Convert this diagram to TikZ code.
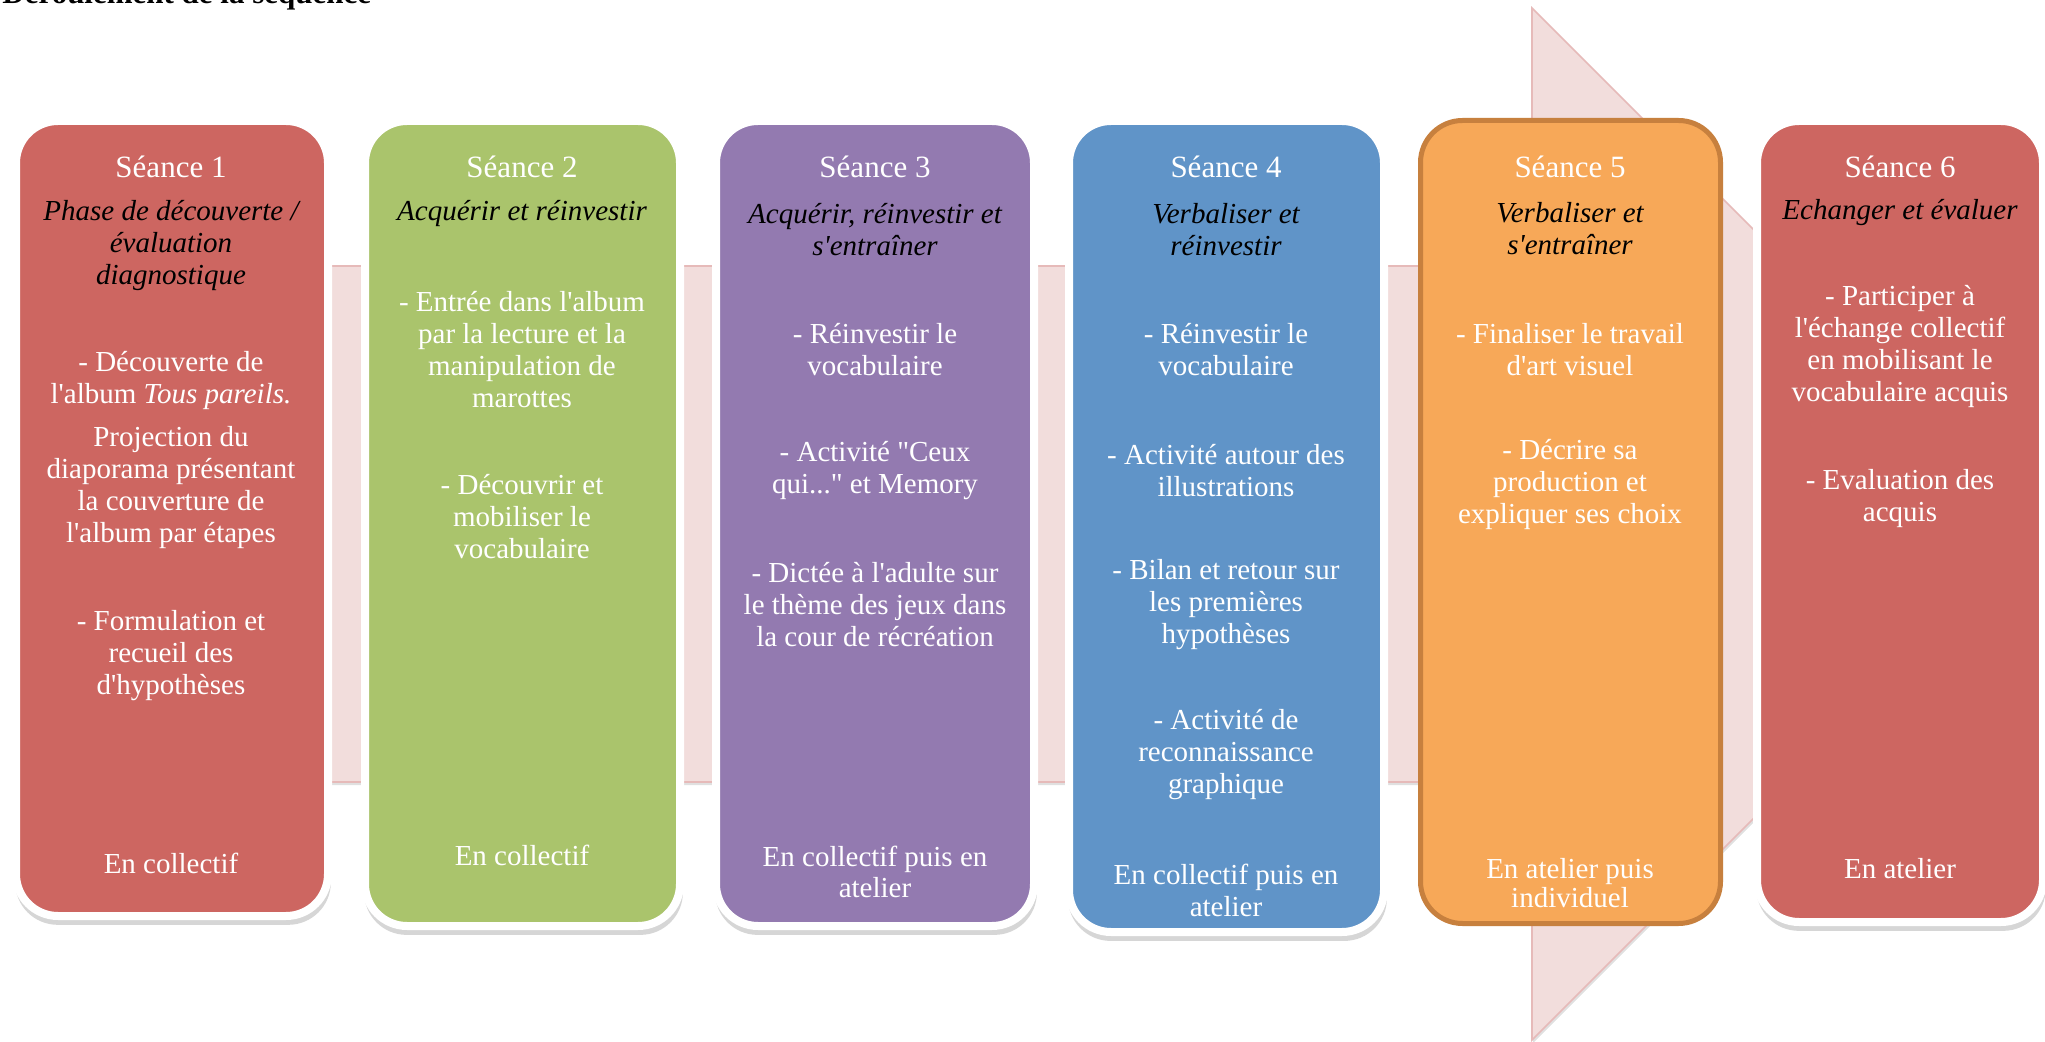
\documentclass[tikz,border=0pt]{standalone}
\usepackage{fontspec}
\setmainfont{Liberation Serif}[Ligatures=TeXOff]
\usetikzlibrary{shadows}
\definecolor{cRouge}{RGB}{205,102,97}
\definecolor{cVert}{RGB}{170,196,108}
\definecolor{cViolet}{RGB}{147,122,176}
\definecolor{cBleu}{RGB}{96,148,200}
\definecolor{cOrange}{RGB}{247,168,88}
\definecolor{cBrun}{RGB}{199,128,62}
\definecolor{cRose}{RGB}{242,221,220}
\definecolor{cRoseBord}{RGB}{230,186,185}

\begin{document}
\begin{tikzpicture}[x=0.5pt, y=-0.5pt,
    seance/.style={rectangle, rounded corners=21pt, draw=white, line width=4pt,
        drop shadow={shadow xshift=0.5pt, shadow yshift=-2pt, shadow scale=1.012, opacity=0.16, fill=black}},
    titre/.style={inner sep=0pt, yshift=-1.2pt, text=white, align=center, font=\fontsize{15.5}{17}\selectfont},
    phase/.style={inner sep=0pt, yshift=-1.2pt, text=black, align=center, font=\fontsize{14.5}{16}\selectfont\itshape},
    corps/.style={inner sep=0pt, yshift=-1.2pt, text=white, align=center, font=\fontsize{14.5}{15.9}\selectfont}
]
    \useasboundingbox (0,0) rectangle (2045,1042);
    \clip (0,0) rectangle (2045,1042);
    \fill[white] (0,0) rectangle (2045,1042);

    \node[anchor=base west, inner sep=0pt, font=\fontsize{15.5}{17}\selectfont\bfseries] (titre) at (2,4) {Déroulement de la séquence};

    \filldraw[fill=cRose, draw=cRoseBord, line width=0.8pt,
        drop shadow={shadow xshift=0.6pt, shadow yshift=-1.5pt, opacity=0.12, fill=black}]
        (20,266) -- (1532,266) -- (1532,8) -- (2048,524) -- (1532,1040) -- (1532,782) -- (20,782) -- cycle;

    % Seance 1
    \node[seance, fill=cRouge, minimum width=156pt, minimum height=397.5pt] (s1) at (172,518.5) {};
    \node[titre] (s1t) at (171,164) {Séance 1};
    \node[phase] (s1p) at (171,243) {Phase de découverte /\\évaluation\\diagnostique};
    \node[corps] (s1a) at (171,378) {- Découverte de\\l'album \textit{Tous pareils.}};
    \node[corps] (s1b) at (171,485) {Projection du\\diaporama présentant\\la couverture de\\l'album par étapes};
    \node[corps] (s1c) at (171,653) {- Formulation et\\recueil des\\d'hypothèses};
    \node[corps] (s1d) at (171,861) {En collectif};

    % Seance 2
    \node[seance, fill=cVert, minimum width=157.5pt, minimum height=402.5pt] (s2) at (522.5,523.5) {};
    \node[titre] (s2t) at (522,164) {Séance 2};
    \node[phase] (s2p) at (522,211) {Acquérir et réinvestir};
    \node[corps] (s2a) at (522,347) {- Entrée dans l'album\\par la lecture et la\\manipulation de\\marottes};
    \node[corps] (s2b) at (522,514) {- Découvrir et\\mobiliser le\\vocabulaire};
    \node[corps] (s2d) at (522,853) {En collectif};

    % Seance 3
    \node[seance, fill=cViolet, minimum width=159pt, minimum height=402.5pt] (s3) at (875,523.5) {};
    \node[titre] (s3t) at (875,164) {Séance 3};
    \node[phase] (s3p) at (875,227) {Acquérir, réinvestir et\\s'entraîner};
    \node[corps] (s3a) at (875,347) {- Réinvestir le\\vocabulaire};
    \node[corps] (s3b) at (875,468) {- Activité "Ceux\\qui..." et Memory};
    \node[corps] (s3c) at (875,602) {- Dictée à l'adulte sur\\le thème des jeux dans\\la cour de récréation};
    \node[corps] (s3d) at (875,869.5) {En collectif puis en\\atelier};

    % Seance 4
    \node[seance, fill=cBleu, minimum width=157.5pt, minimum height=405.5pt] (s4) at (1226.5,526.5) {};
    \node[titre] (s4t) at (1226,164) {Séance 4};
    \node[phase] (s4p) at (1226,227) {Verbaliser et\\réinvestir};
    \node[corps] (s4a) at (1226,347) {- Réinvestir le\\vocabulaire};
    \node[corps] (s4b) at (1226,468) {- Activité autour des\\illustrations};
    \node[corps] (s4c) at (1226,602) {- Bilan et retour sur\\les premières\\hypothèses};
    \node[corps] (s4e) at (1226,752) {- Activité de\\reconnaissance\\graphique};
    \node[corps] (s4d) at (1226,888) {En collectif puis en\\atelier};

    % Seance 5
    \node[rectangle, rounded corners=21pt, fill=cOrange, draw=cBrun, line width=2.5pt,
        minimum width=150pt, minimum height=401.5pt] (s5) at (1570.5,522) {};
    \node[titre] (s5t) at (1570,164) {Séance 5};
    \node[phase] (s5p) at (1570,226) {Verbaliser et\\s'entraîner};
    \node[corps] (s5a) at (1570,347) {- Finaliser le travail\\d'art visuel};
    \node[corps] (s5b) at (1570,482) {- Décrire sa\\production et\\expliquer ses choix};
    \node[corps, font=\fontsize{14.5}{14.5}\selectfont] (s5d) at (1570,880.5) {En atelier puis\\individuel};

    % Seance 6
    \node[seance, fill=cRouge, minimum width=143pt, minimum height=400.5pt] (s6) at (1900,521.5) {};
    \node[titre] (s6t) at (1900,164) {Séance 6};
    \node[phase] (s6p) at (1900,210) {Echanger et évaluer};
    \node[corps] (s6a) at (1900,344) {- Participer à\\l'échange collectif\\en mobilisant le\\vocabulaire acquis};
    \node[corps] (s6b) at (1900,496) {- Evaluation des\\acquis};
    \node[corps] (s6d) at (1900,866) {En atelier};
\end{tikzpicture}
\end{document}
